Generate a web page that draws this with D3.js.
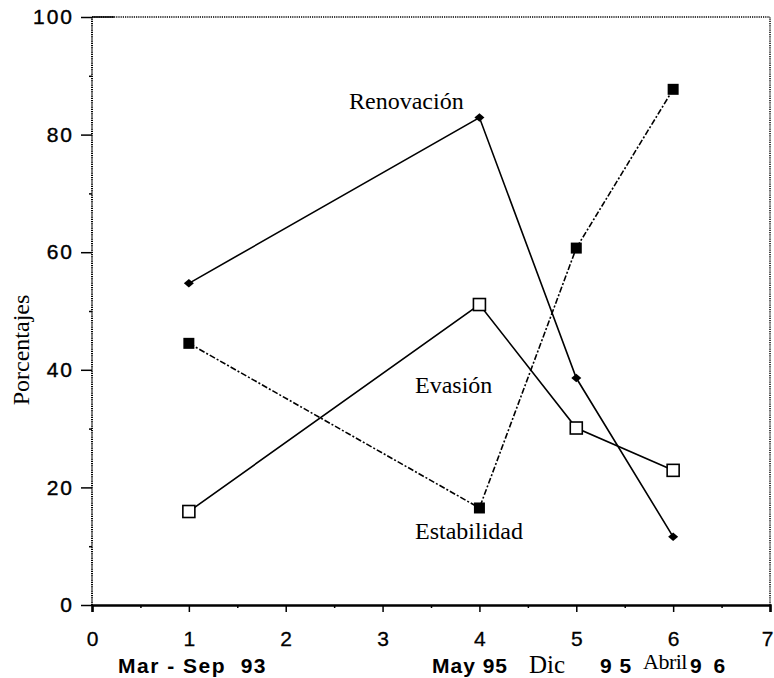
<!DOCTYPE html>
<html>
<head>
<meta charset="utf-8">
<script src="https://cdn.jsdelivr.net/npm/d3@7"></script>
<style>
  body { margin: 0; background: #fff; }
  svg { display: block; }
</style>
</head>
<body>
<svg id="chart"></svg>
<script>
// datos
const periods = [1, 4, 5, 6];
const renovacion = [54.7, 82.9, 38.6, 11.6];
const evasion = [15.9, 51.1, 30.1, 22.9];
const estabilidad = [44.5, 16.5, 60.7, 87.7];
const xTicks = [0, 1, 2, 3, 4, 5, 6, 7];
const yTicks = [0, 20, 40, 60, 80, 100];

const width = 774, height = 678;
const svg = d3.select("#chart").attr("width", width).attr("height", height);

const x = d3.scaleLinear().domain([0, 7]).range([92, 770]);
const y = d3.scaleLinear().domain([0, 100]).range([605, 17]);

const sans = "'Liberation Sans', Arial, sans-serif";
const serif = "'Liberation Serif', 'Times New Roman', serif";

// marco punteado
const frame = svg.append("g").attr("fill", "none").attr("stroke", "#000");
frame.append("line").attr("x1", x(0)).attr("x2", x(0)).attr("y1", y(0)).attr("y2", y(100))
  .attr("stroke-width", 2).attr("stroke-dasharray", "1.2,1");
frame.append("line").attr("x1", x(0)).attr("x2", x(7)).attr("y1", y(100)).attr("y2", y(100))
  .attr("stroke-width", 1.5).attr("stroke-dasharray", "1.2,1");
frame.append("line").attr("x1", x(0)).attr("x2", x(0) + 22).attr("y1", y(100)).attr("y2", y(100))
  .attr("stroke-width", 1.5);
frame.append("line").attr("x1", x(7)).attr("x2", x(7)).attr("y1", y(0)).attr("y2", y(100))
  .attr("stroke-width", 1.5).attr("stroke-dasharray", "1.2,1");

// eje Y
const yAxis = svg.append("g").attr("transform", `translate(${x(0)},0)`)
  .call(d3.axisLeft(y).tickValues(yTicks).tickSize(11).tickPadding(7));
yAxis.select(".domain").remove();
yAxis.selectAll("line").attr("stroke-width", 1.5);
yAxis.selectAll("text").style("font-family", sans).style("font-size", "21px")
  .style("letter-spacing", "2px").style("fill", "#000")
  .style("stroke", "#000").style("stroke-width", "0.4px");

const yMinor = svg.append("g").attr("transform", `translate(${x(0)},0)`)
  .call(d3.axisLeft(y).tickValues([10, 30, 50, 70, 90]).tickSize(3).tickFormat(""));
yMinor.select(".domain").remove();
yMinor.selectAll("line").attr("stroke-width", 1.5);

// eje X
const xAxis = svg.append("g").attr("transform", `translate(0,${y(0)})`)
  .call(d3.axisBottom(x).tickValues(xTicks).tickSize(7).tickPadding(19).tickFormat(d3.format("d")));
xAxis.select(".domain").attr("stroke-width", 2.5);
xAxis.selectAll("line").attr("stroke-width", 1.5);
xAxis.selectAll("text").style("font-family", sans).style("font-size", "21px").style("fill", "#000")
  .style("stroke", "#000").style("stroke-width", "0.3px");
// el "7" queda al borde: se alinea a la derecha para que no se corte
xAxis.selectAll(".tick").filter(d => d === 7).select("text")
  .attr("text-anchor", "end").attr("dx", 3);

const xMinor = svg.append("g").attr("transform", `translate(0,${y(0)})`)
  .call(d3.axisBottom(x).tickValues(d3.range(0.5, 7, 1)).tickSize(3).tickFormat(""));
xMinor.select(".domain").remove();
xMinor.selectAll("line").attr("stroke-width", 1.5);

// fechas bajo el eje
const dateLabels = svg.append("g").attr("fill", "#000");
const bold = (t, px, letter) => dateLabels.append("text").attr("x", px).attr("y", 673)
  .style("font-family", sans).style("font-weight", "bold").style("font-size", "21px")
  .style("letter-spacing", letter).attr("xml:space", "preserve").text(t);
bold("Mar - Sep  93", 118, "1.5px");
bold("May 95", 432, "1px");
dateLabels.append("text").attr("x", 529).attr("y", 673)
  .style("font-family", serif).style("font-size", "25px").text("Dic");
bold("9 5", 600, "1px");
dateLabels.append("text").attr("x", 643).attr("y", 669)
  .style("font-family", serif).style("font-size", "22px").style("letter-spacing", "-0.5px").text("Abril");
bold("9 6", 690, "3px");

// título eje Y
svg.append("text")
  .attr("transform", `translate(29,350) rotate(-90)`)
  .attr("text-anchor", "middle")
  .style("font-family", serif).style("font-size", "24px")
  .text("Porcentajes");

// series
const line = d3.line().x(d => x(d[0])).y(d => y(d[1]));
const pts = vals => periods.map((p, i) => [p, vals[i]]);

svg.append("path").datum(pts(renovacion)).attr("d", line)
  .attr("fill", "none").attr("stroke", "#000").attr("stroke-width", 1.6);
svg.append("path").datum(pts(evasion)).attr("d", line)
  .attr("fill", "none").attr("stroke", "#000").attr("stroke-width", 1.6);
svg.append("path").datum(pts(estabilidad)).attr("d", line)
  .attr("fill", "none").attr("stroke", "#000").attr("stroke-width", 1.6)
  .attr("stroke-dasharray", "6,2,2,2");

// marcadores
svg.selectAll(".diamond").data(pts(renovacion)).enter().append("path")
  .attr("class", "diamond")
  .attr("d", d3.symbol().type(d3.symbolSquare).size(50))
  .attr("transform", d => `translate(${x(d[0])},${y(d[1])}) scale(1,0.85) rotate(45)`)
  .attr("fill", "#000");

svg.selectAll(".open").data(pts(evasion)).enter().append("rect")
  .attr("class", "open")
  .attr("x", d => x(d[0]) - 6).attr("y", d => y(d[1]) - 6)
  .attr("width", 12).attr("height", 12)
  .attr("fill", "#fff").attr("stroke", "#000").attr("stroke-width", 1.6);

svg.selectAll(".filled").data(pts(estabilidad)).enter().append("rect")
  .attr("class", "filled")
  .attr("x", d => x(d[0]) - 5.5).attr("y", d => y(d[1]) - 5.5)
  .attr("width", 11).attr("height", 11)
  .attr("fill", "#000");

// nombres de las series
const names = svg.append("g").style("font-family", serif).style("font-size", "24px").attr("fill", "#000");
names.append("text").attr("x", 349).attr("y", 109).text("Renovación");
names.append("text").attr("x", 415).attr("y", 393).text("Evasión");
names.append("text").attr("x", 415).attr("y", 539).text("Estabilidad");
</script>
</body>
</html>
